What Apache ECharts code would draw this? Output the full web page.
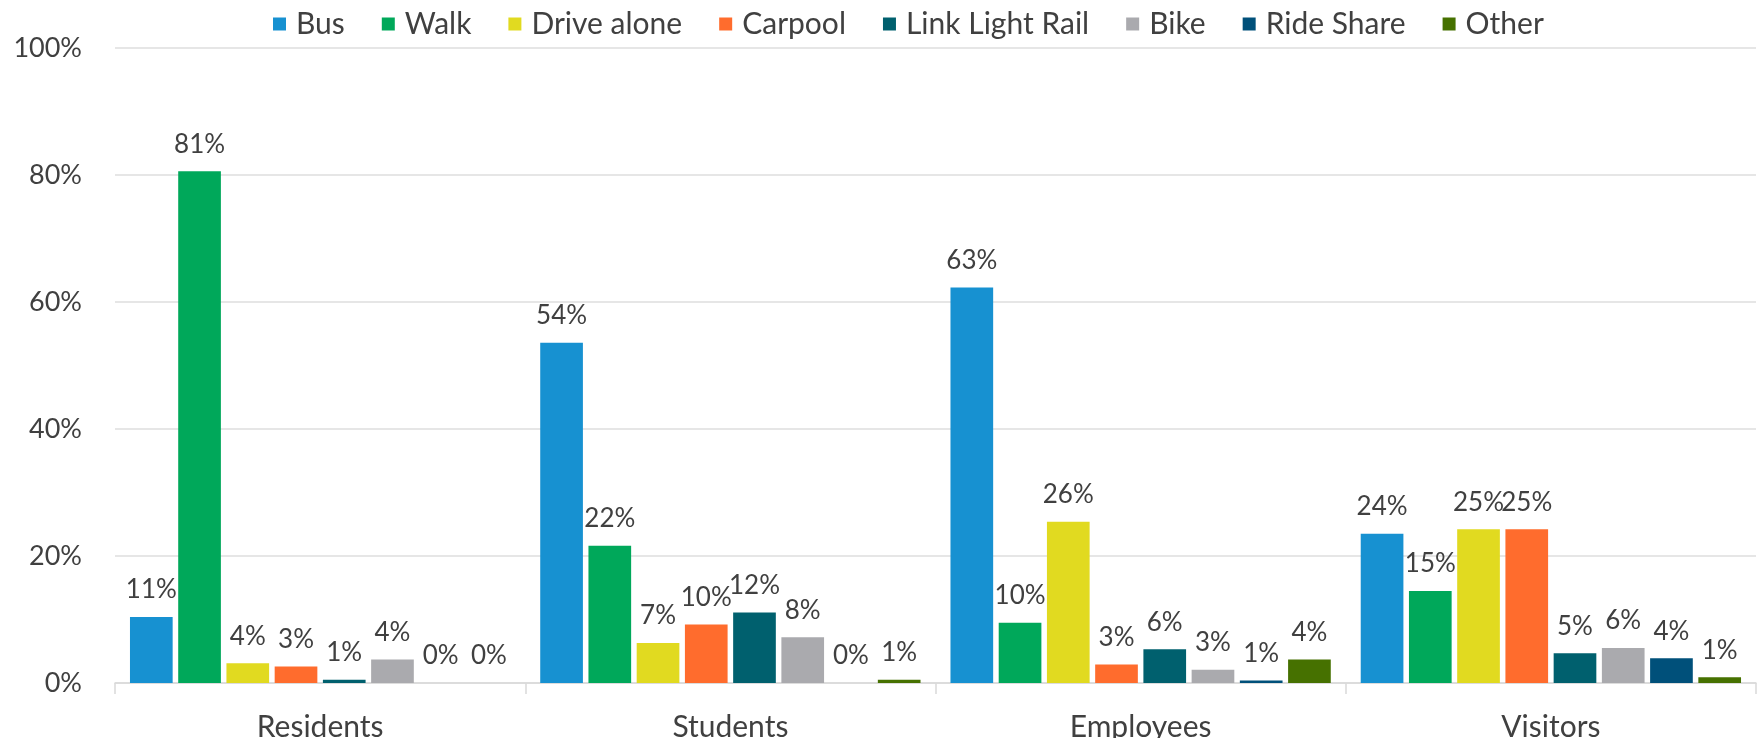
<!DOCTYPE html>
<html lang="en">
<head>
    <meta charset="UTF-8" />
    <title>Travel mode by group</title>
    <script src="https://cdn.jsdelivr.net/npm/echarts@6/dist/echarts.min.js"></script>
    <style>
        html, body { margin: 0; padding: 0; background: #fff; }
        #main { width: 1758px; height: 738px; }
    </style>
</head>
<body>
    <div id="main"></div>
    <script type="text/javascript">
        // groups along the x axis
        const categories = ["Residents", "Students", "Employees", "Visitors"];

        // share (%) per travel mode
        const bus = [10.4, 53.6, 62.3, 23.5];
        const walk = [80.6, 21.6, 9.5, 14.5];
        const driveAlone = [3.1, 6.3, 25.4, 24.2];
        const carpool = [2.6, 9.2, 2.9, 24.2];
        const linkLightRail = [0.5, 11.1, 5.3, 4.7];
        const bike = [3.7, 7.2, 2.1, 5.5];
        const rideShare = [0, 0, 0.4, 3.9];
        const other = [0, 0.5, 3.7, 0.9];

        const yTicks = [0, 20, 40, 60, 80, 100];

        const modes = [
            { name: "Bus", data: bus, color: "#1791D1" },
            { name: "Walk", data: walk, color: "#00A85A" },
            { name: "Drive alone", data: driveAlone, color: "#E1DA20" },
            { name: "Carpool", data: carpool, color: "#FF6C2D" },
            { name: "Link Light Rail", data: linkLightRail, color: "#00606E" },
            { name: "Bike", data: bike, color: "#AAAAAE" },
            { name: "Ride Share", data: rideShare, color: "#00507A" },
            { name: "Other", data: other, color: "#467100" },
        ];

        const textColor = "#404040";
        const font = "Lato";

        let myChart = echarts.init(document.getElementById("main"));

        let options = {
            animation: false,
            textStyle: { fontFamily: font, color: textColor },
            legend: {
                left: 268,
                top: 4,
                icon: "rect",
                itemWidth: 13,
                itemHeight: 13,
                itemGap: 37,
                textStyle: { fontFamily: font, fontSize: 30, color: textColor, padding: [0, 0, 0, 5] },
                data: modes.map(m => m.name),
            },
            // keep the plot fixed; the category labels run off the bottom edge like the source
            grid: { left: 115, right: 2, top: 48, bottom: 55, containLabel: false, outerBoundsMode: "none" },
            xAxis: {
                type: "category",
                data: categories,
                axisLine: { lineStyle: { color: "#D9D9D9", width: 1.5 } },
                axisTick: { show: true, length: 11, lineStyle: { color: "#D9D9D9", width: 1.5 } },
                axisLabel: { margin: 29, fontFamily: font, fontSize: 30, color: textColor },
            },
            yAxis: {
                type: "value",
                min: yTicks[0],
                max: yTicks[yTicks.length - 1],
                interval: yTicks[1] - yTicks[0],
                axisLine: { show: false },
                axisTick: { show: false },
                splitLine: { lineStyle: { color: "#DEDEDE", width: 1.5 } },
                axisLabel: { margin: 33, fontFamily: font, fontSize: 27, color: textColor, formatter: "{value}%" },
            },
            series: modes.map(m => ({
                name: m.name,
                type: "bar",
                data: m.data,
                barCategoryGap: "7.3%",
                barGap: "13%",
                itemStyle: { color: m.color },
                label: {
                    show: true,
                    position: "top",
                    distance: 14,
                    fontFamily: font,
                    fontSize: 26,
                    color: textColor,
                    // labels in the source sit one step above the bar height
                    formatter: p => Math.ceil(p.value) + "%",
                },
            })),
        };

        myChart.setOption(options);
    </script>
</body>
</html>
